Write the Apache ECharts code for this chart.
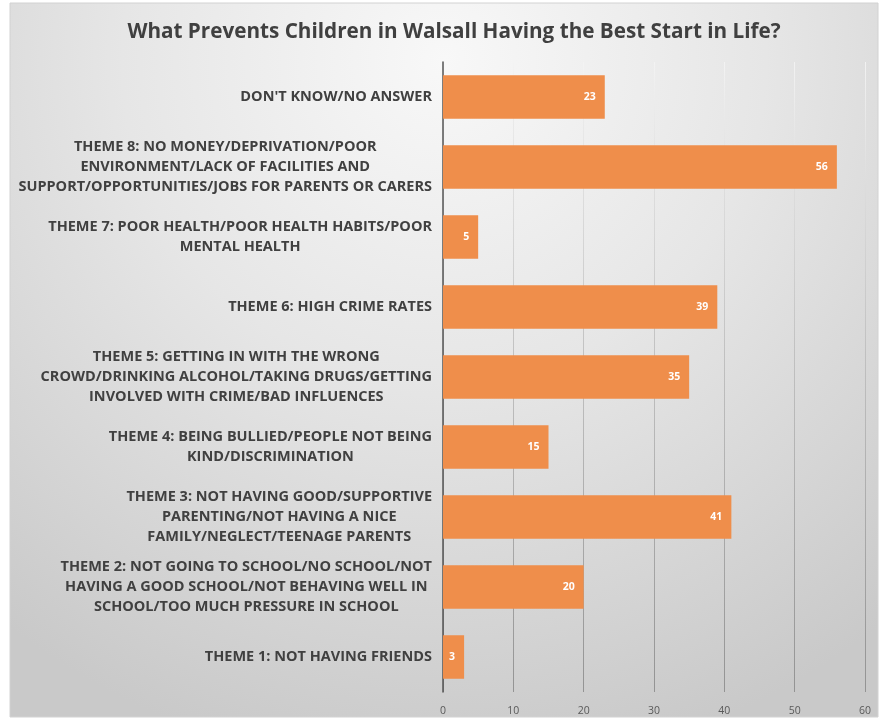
<!DOCTYPE html>
<html>
<head>
<meta charset="utf-8">
<script src="https://cdn.jsdelivr.net/npm/echarts@6/dist/echarts.min.js"></script>
<style>html,body{margin:0;padding:0;background:#fff;}#c{width:884px;height:726px;}</style>
</head>
<body>
<div id="c"></div>
<script>
const titleText = 'What Prevents Children in Walsall Having the Best Start in Life?';
const categories = [
  'THEME 1: NOT HAVING FRIENDS',
  'THEME 2: NOT GOING TO SCHOOL/NO SCHOOL/NOT\nHAVING A GOOD SCHOOL/NOT BEHAVING WELL IN\nSCHOOL/TOO MUCH PRESSURE IN SCHOOL',
  'THEME 3: NOT HAVING GOOD/SUPPORTIVE\nPARENTING/NOT HAVING A NICE\nFAMILY/NEGLECT/TEENAGE PARENTS',
  'THEME 4: BEING BULLIED/PEOPLE NOT BEING\nKIND/DISCRIMINATION',
  'THEME 5: GETTING IN WITH THE WRONG\nCROWD/DRINKING ALCOHOL/TAKING DRUGS/GETTING\nINVOLVED WITH CRIME/BAD INFLUENCES',
  'THEME 6: HIGH CRIME RATES',
  'THEME 7: POOR HEALTH/POOR HEALTH HABITS/POOR\nMENTAL HEALTH',
  'THEME 8: NO MONEY/DEPRIVATION/POOR\nENVIRONMENT/LACK OF FACILITIES AND\nSUPPORT/OPPORTUNITIES/JOBS FOR PARENTS OR CARERS',
  "DON'T KNOW/NO ANSWER"
];
const values = [3, 20, 41, 15, 35, 39, 5, 56, 23];
const xMin = 0, xMax = 60, xStep = 10;

const chart = echarts.init(document.getElementById('c'));
const FONT = '"Open Sans"';
chart.setOption({
  backgroundColor: '#ffffff',
  animation: false,
  graphic: [{
    type: 'rect', z: -100, silent: true,
    shape: { x: 10, y: 3, width: 868, height: 714 },
    style: {
      fill: { type: 'radial', x: 0.5, y: 0.08, r: 1.0,
        colorStops: [{ offset: 0, color: '#f8f8f8' }, { offset: 0.45, color: '#e6e6e6' }, { offset: 1, color: '#c9c9c9' }] },
      stroke: '#d2d2d2', lineWidth: 1
    }
  }],
  title: {
    text: titleText, left: 449, top: 17, textAlign: 'center',
    textStyle: { fontFamily: FONT, fontWeight: 'bold', fontSize: 20.7, color: '#404040' }
  },
  grid: { left: 443, right: 19, top: 62, bottom: 34, containLabel: false },
  xAxis: {
    type: 'value', min: xMin, max: xMax, interval: xStep,
    axisLine: { show: false }, axisTick: { show: false },
    axisLabel: { fontFamily: FONT, fontSize: 10.5, color: '#595959', margin: 14 },
    splitLine: { show: true, lineStyle: { width: 1,
      color: { type: 'linear', x: 0, y: 0, x2: 0, y2: 700, global: true,
        colorStops: [{ offset: 0, color: 'rgba(255,255,255,0.9)' }, { offset: 0.5, color: 'rgba(190,190,190,0.9)' }, { offset: 1, color: 'rgba(140,140,140,0.9)' }] } } }
  },
  yAxis: {
    type: 'category', data: categories,
    axisLine: { show: true, lineStyle: { color: '#555555', width: 1.5 } },
    axisTick: { show: false },
    axisLabel: {
      margin: 11, interval: 0,
      formatter: v => v.split('\n').map(l => '{c|' + l + '}').join('\n'),
      rich: { c: { align: 'center', fontFamily: FONT, fontWeight: 'bold', fontSize: 14.5, color: '#404040', lineHeight: 20 } }
    }
  },
  series: [{
    type: 'bar', data: values, barCategoryGap: '38%',
    itemStyle: { color: '#EF8E4B' },
    label: { show: true, position: 'insideRight', distance: 9, color: '#ffffff', fontFamily: FONT, fontWeight: 'bold', fontSize: 10.5 }
  }]
});
</script>
</body>
</html>
